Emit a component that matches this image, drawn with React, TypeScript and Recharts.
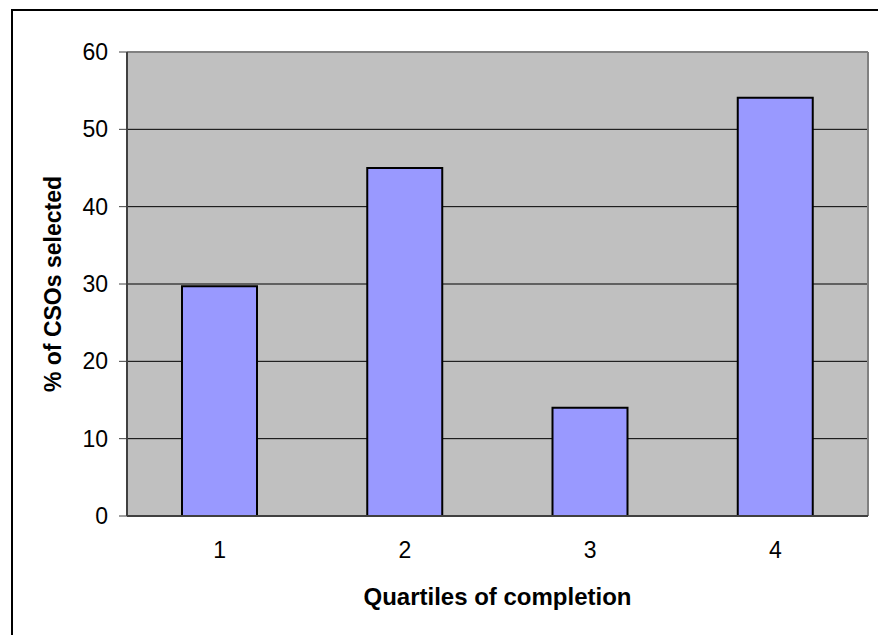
import React from 'react';
import { BarChart, Bar, CartesianGrid, XAxis, YAxis, ReferenceLine } from 'recharts';

const quartiles = [1, 2, 3, 4];
const selectedPct = [29.7, 45.0, 14.0, 54.1];
const yTicks = [0, 10, 20, 30, 40, 50, 60];
const boundaryTicks = [0.5, 1.5, 2.5, 3.5, 4.5];

const data = quartiles.map((q, i) => ({ quartile: q, pct: selectedPct[i] }));

const FONT = 'Arial, "Liberation Sans", sans-serif';

export default function App() {
  return (
    <div style={{ position: 'absolute', left: 0, top: 0, width: 878, height: 635, overflow: 'hidden', background: '#fff' }}>
      {/* outer chart border, right/bottom run off the picture */}
      <div
        style={{
          position: 'absolute',
          left: 11,
          top: 9,
          width: 900,
          height: 700,
          border: '2px solid #000',
          boxSizing: 'border-box',
        }}
      />
      <div style={{ position: 'absolute', left: 0, top: 0 }}>
        <BarChart
          width={878}
          height={635}
          data={data}
          margin={{ top: 52, right: 10, bottom: 0, left: 0 }}
          style={{ fontFamily: FONT }}
        >
          <CartesianGrid
            fill="#C0C0C0"
            stroke="#000"
            vertical={false}
            horizontalValues={[10, 20, 30, 40, 50]}
          />
          <XAxis
            xAxisId="lbl"
            dataKey="quartile"
            type="number"
            domain={[0.5, 4.5]}
            ticks={quartiles}
            tickLine={false}
            tickSize={0}
            tickMargin={26}
            axisLine={{ stroke: '#404040', strokeWidth: 2 }}
            tick={{ fill: '#000', fontSize: 23, fontFamily: FONT }}
            height={119}
            label={{
              value: 'Quartiles of completion',
              position: 'insideTop',
              offset: 72,
              fill: '#000',
              fontSize: 24,
              fontWeight: 'bold',
              fontFamily: FONT,
            }}
          />
          <XAxis
            xAxisId="bnd"
            dataKey="quartile"
            type="number"
            domain={[0.5, 4.5]}
            ticks={boundaryTicks}
            tick={false}
            tickSize={8}
            axisLine={false}
            tickLine={{ stroke: '#404040' }}
            height={0}
          />
          <YAxis
            type="number"
            domain={[0, 60]}
            ticks={yTicks}
            width={127}
            tickSize={8}
            tickMargin={11}
            interval={0}
            axisLine={{ stroke: '#404040', strokeWidth: 2 }}
            tickLine={{ stroke: '#404040' }}
            tick={{ fill: '#000', fontSize: 23, fontFamily: FONT }}
            label={{
              value: '% of CSOs selected',
              angle: -90,
              position: 'insideLeft',
              offset: 53,
              style: { textAnchor: 'middle' },
              fill: '#000',
              fontSize: 23,
              fontWeight: 'bold',
              fontFamily: FONT,
            }}
          />
          <ReferenceLine xAxisId="lbl" y={60} stroke="#808080" strokeWidth={2} />
          <ReferenceLine xAxisId="lbl" x={4.5} stroke="#808080" strokeWidth={2} />
          <Bar
            xAxisId="lbl"
            dataKey="pct"
            fill="#9999FF"
            stroke="#000"
            strokeWidth={2}
            barSize={75}
            isAnimationActive={false}
          />
        </BarChart>
      </div>
    </div>
  );
}
